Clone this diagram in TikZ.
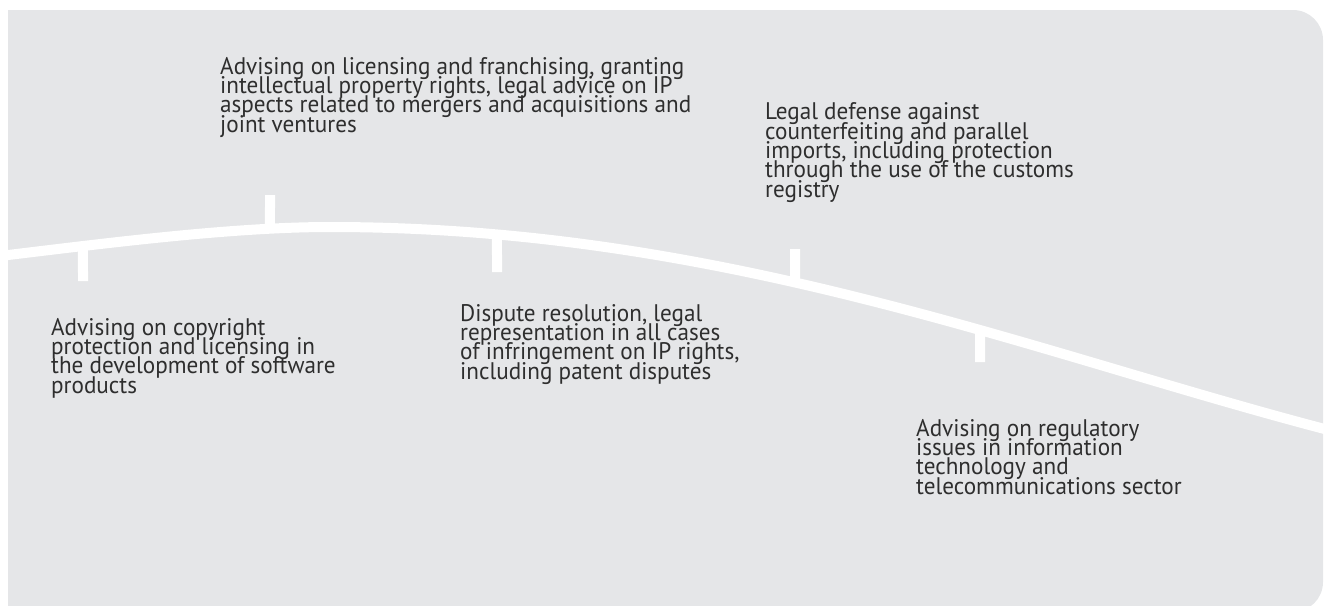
\documentclass[tikz,border=0pt]{standalone}
\usepackage{fontspec}
\setmainfont{PT Sans}[FakeStretch=0.965]
\usetikzlibrary{intersections}
\definecolor{panelgray}{HTML}{E5E6E8}
\definecolor{textgray}{HTML}{2E2E2E}
\newcommand\itemfont{\fontsize{24}{19.3}\selectfont\lineskiplimit=-30pt\relax}

\tikzset{
  item/.style={anchor=base west, inner sep=0pt, align=left, text=textgray, font=\itemfont},
  band/.style={draw=white, line width=10pt},
  stem/.style={draw=white, line width=10pt}
}

\begin{document}
\begin{tikzpicture}[x=1pt, y=-1pt]
	\clip (0,0) rectangle (1325,605);
	
	% panel
	\fill[panelgray] (8,612) -- (8,10) [rounded corners=30pt] -- (1323,10) -- (1323,612) [sharp corners] -- cycle;
	
	% the curve
	\draw[band, name path=arc] (0,256) .. controls (100,244) and (230,227) .. (330,227)
		.. controls (730,227) and (1040,356) .. (1340,433);
	
	% free ends of the stems
	\coordinate (e1) at (83,281);
	\coordinate (e2) at (270,195);
	\coordinate (e3) at (497,272);
	\coordinate (e4) at (795,249);
	\coordinate (e5) at (980,362);
	
	% stems, from the curve to their free ends
	\foreach \i in {1,...,5} {
		\path[name path=v\i] (e\i |- 0,0) -- (e\i |- 0,605);
		\path[name intersections={of=arc and v\i, by=p\i}];
		\draw[stem] (p\i) -- (e\i);
	}
	
	% texts, placed at the baseline of their last line
	\node[item] (copyright) at (51,393) {Advising on copyright\\protection and licensing in\\the development of software\\products};
	\node[item] (licensing) at (220,132) {Advising on licensing and franchising, granting\\intellectual property rights, legal advice on IP\\aspects related to mergers and acquisitions and\\joint ventures};
	\node[item] (dispute) at (460,379) {Dispute resolution, legal\\representation in all cases\\of infringement on IP rights,\\including patent disputes};
	\node[item] (defense) at (765,197) {Legal defense against\\counterfeiting and parallel\\imports, including protection\\through the use of the customs\\registry};
	\node[item] (regulatory) at (916,494) {Advising on regulatory\\issues in information\\technology and\\telecommunications sector};
\end{tikzpicture}
\end{document}
